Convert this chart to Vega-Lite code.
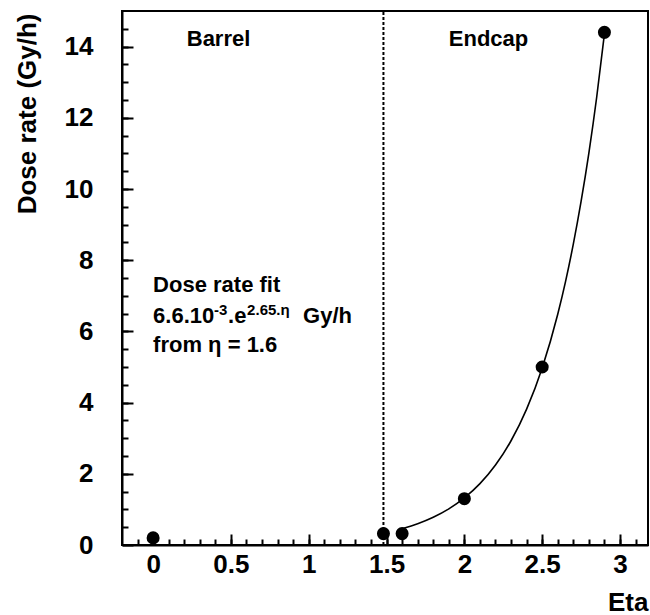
{
  "$schema": "https://vega.github.io/schema/vega-lite/v6.json",
  "width": 526,
  "height": 534,
  "autosize": {"type": "none"},
  "padding": {"left": 122, "top": 11, "right": 2, "bottom": 70},
  "background": "white",
  "config": {
    "view": {"stroke": "black", "strokeWidth": 2},
    "font": "Liberation Sans",
    "axis": {"grid": false, "labelFlush": false, "labelOverlap": false}
  },
  "datasets": {
    "points": [
      {"eta": 0.0, "dose": 0.2},
      {"eta": 1.48, "dose": 0.32},
      {"eta": 1.6, "dose": 0.32},
      {"eta": 2.0, "dose": 1.3},
      {"eta": 2.5, "dose": 5.0},
      {"eta": 2.9, "dose": 14.4}
    ],
    "fit": [
      {"eta": 1.6, "dose": 0.458},
      {"eta": 1.7, "dose": 0.597},
      {"eta": 1.8, "dose": 0.778},
      {"eta": 1.9, "dose": 1.014},
      {"eta": 2.0, "dose": 1.322},
      {"eta": 2.1, "dose": 1.723},
      {"eta": 2.2, "dose": 2.246},
      {"eta": 2.3, "dose": 2.928},
      {"eta": 2.4, "dose": 3.816},
      {"eta": 2.5, "dose": 4.974},
      {"eta": 2.6, "dose": 6.483},
      {"eta": 2.65, "dose": 7.40},
      {"eta": 2.7, "dose": 8.45},
      {"eta": 2.75, "dose": 9.65},
      {"eta": 2.8, "dose": 11.01},
      {"eta": 2.85, "dose": 12.57},
      {"eta": 2.9, "dose": 14.36}
    ],
    "divider": [{"eta": 1.48}],
    "labels": [
      {"eta": 0.216, "dose": 14.02, "text": "Barrel"},
      {"eta": 1.9, "dose": 14.02, "text": "Endcap"},
      {"eta": 0.0, "dose": 7.1, "text": "Dose rate fit"},
      {"eta": 0.0, "dose": 6.24, "text": "6.6.10"},
      {"eta": 0.0, "dose": 5.42, "text": "from η = 1.6"}
    ],
    "sup1": [{"eta": 0.0, "dose": 6.24, "text": "-3"}],
    "mid1": [{"eta": 0.0, "dose": 6.24, "text": ".e"}],
    "sup2": [{"eta": 0.0, "dose": 6.24, "text": "2.65.η"}],
    "unit": [{"eta": 0.0, "dose": 6.24, "text": "Gy/h"}]
  },
  "layer": [
    {
      "data": {"name": "fit"},
      "mark": {"type": "line", "color": "black", "strokeWidth": 1.6, "interpolate": "monotone"},
      "encoding": {
        "x": {"field": "eta", "type": "quantitative", "scale": {"domain": [-0.2, 3.18], "nice": false, "zero": false},
          "axis": {"orient": "bottom", "values": [-0.1,0,0.1,0.2,0.3,0.4,0.5,0.6,0.7,0.8,0.9,1,1.1,1.2,1.3,1.4,1.5,1.6,1.7,1.8,1.9,2,2.1,2.2,2.3,2.4,2.5,2.6,2.7,2.8,2.9,3,3.1],
            "labels": false, "domain": false, "title": null, "tickSize": -6, "tickWidth": 2, "tickColor": "black"}},
        "y": {"field": "dose", "type": "quantitative", "scale": {"domain": [0, 15], "nice": false, "zero": false},
          "axis": {"orient": "left", "values": [0.5,1,1.5,2,2.5,3,3.5,4,4.5,5,5.5,6,6.5,7,7.5,8,8.5,9,9.5,10,10.5,11,11.5,12,12.5,13,13.5,14,14.5],
            "labels": false, "domain": false, "title": null, "tickSize": -6, "tickWidth": 2, "tickColor": "black"}}
      }
    },
    {
      "data": {"name": "divider"},
      "mark": {"type": "rule", "color": "black", "strokeWidth": 2, "strokeDash": [3, 2]},
      "encoding": {
        "x": {"field": "eta", "type": "quantitative",
          "axis": {"orient": "bottom", "values": [0, 0.5, 1, 1.5, 2, 2.5, 3],
            "labels": false, "domain": false, "title": null, "tickSize": -11, "tickWidth": 2, "tickColor": "black"}},
        "y": {"datum": 0, "type": "quantitative",
          "axis": {"orient": "left", "values": [0, 2, 4, 6, 8, 10, 12, 14],
            "labels": false, "domain": false, "title": null, "tickSize": -11, "tickWidth": 2, "tickColor": "black"}},
        "y2": {"datum": 15}
      }
    },
    {
      "data": {"name": "points"},
      "mark": {"type": "circle", "color": "black", "opacity": 1, "size": 170},
      "encoding": {
        "x": {"field": "eta", "type": "quantitative",
          "axis": {"orient": "bottom", "values": [0, 0.5, 1, 1.5, 2, 2.5, 3], "format": "~g", "ticks": false,
            "labelFontSize": 26, "labelFontWeight": "bold", "labelColor": "black", "labelPadding": 6,
            "domain": true, "domainColor": "black", "domainWidth": 2,
            "title": "Eta", "titleFontSize": 26, "titleFontWeight": "bold", "titleColor": "black",
            "titleAlign": "right", "titleBaseline": "alphabetic", "titleX": 526, "titleY": 65}},
        "y": {"field": "dose", "type": "quantitative",
          "axis": {"orient": "left", "values": [0, 2, 4, 6, 8, 10, 12, 14], "ticks": false,
            "labelFontSize": 26, "labelFontWeight": "bold", "labelColor": "black", "labelPadding": 29,
            "domain": true, "domainColor": "black", "domainWidth": 2,
            "title": "Dose rate (Gy/h)", "titleFontSize": 26, "titleFontWeight": "bold", "titleColor": "black",
            "titleAngle": -90, "titleAlign": "right", "titleBaseline": "middle", "titleX": -95, "titleY": 2}}
      }
    },
    {
      "data": {"name": "labels"},
      "mark": {"type": "text", "align": "left", "baseline": "alphabetic", "fontSize": 22, "fontWeight": "bold", "color": "black"},
      "encoding": {
        "x": {"field": "eta", "type": "quantitative", "axis": null},
        "y": {"field": "dose", "type": "quantitative", "axis": null},
        "text": {"field": "text"}
      }
    },
    {
      "data": {"name": "sup1"},
      "mark": {"type": "text", "align": "left", "baseline": "alphabetic", "fontSize": 15, "fontWeight": "bold", "color": "black", "dx": 61, "dy": -8},
      "encoding": {
        "x": {"field": "eta", "type": "quantitative", "axis": null},
        "y": {"field": "dose", "type": "quantitative", "axis": null},
        "text": {"field": "text"}
      }
    },
    {
      "data": {"name": "mid1"},
      "mark": {"type": "text", "align": "left", "baseline": "alphabetic", "fontSize": 22, "fontWeight": "bold", "color": "black", "dx": 75},
      "encoding": {
        "x": {"field": "eta", "type": "quantitative", "axis": null},
        "y": {"field": "dose", "type": "quantitative", "axis": null},
        "text": {"field": "text"}
      }
    },
    {
      "data": {"name": "sup2"},
      "mark": {"type": "text", "align": "left", "baseline": "alphabetic", "fontSize": 15, "fontWeight": "bold", "color": "black", "dx": 94, "dy": -8},
      "encoding": {
        "x": {"field": "eta", "type": "quantitative", "axis": null},
        "y": {"field": "dose", "type": "quantitative", "axis": null},
        "text": {"field": "text"}
      }
    },
    {
      "data": {"name": "unit"},
      "mark": {"type": "text", "align": "left", "baseline": "alphabetic", "fontSize": 22, "fontWeight": "bold", "color": "black", "dx": 150},
      "encoding": {
        "x": {"field": "eta", "type": "quantitative", "axis": null},
        "y": {"field": "dose", "type": "quantitative", "axis": null},
        "text": {"field": "text"}
      }
    }
  ],
  "resolve": {"axis": {"x": "independent", "y": "independent"}}
}
